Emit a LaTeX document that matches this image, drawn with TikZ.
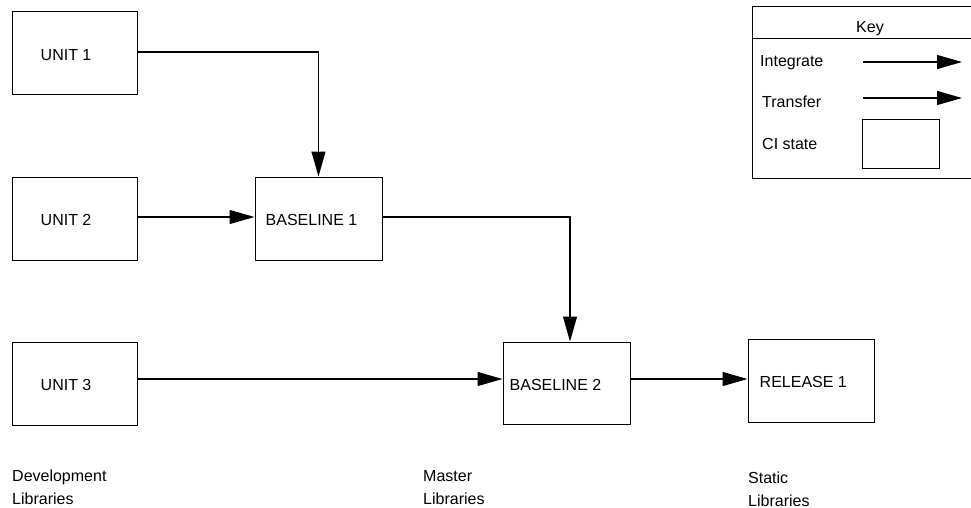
\documentclass[tikz,border=0pt]{standalone}
\usepackage{fontspec}
\setmainfont{Liberation Sans}
\usetikzlibrary{arrows.meta}
\begin{document}
\begin{tikzpicture}[x=1pt,y=-1pt,
  box/.style={draw=black, line width=1pt, inner sep=0pt},
  lbl/.style={inner sep=0pt, font=\fontsize{16}{23}\selectfont},
  arr/.style={draw=black, line width=1.1pt, -{Triangle[length=25pt,width=14pt]}}]
\useasboundingbox (0,0) rectangle (971,508);
% unit boxes
\node[box, minimum width=125pt, minimum height=83pt] (u1) at (74.5,53.5) {};
\node[box, minimum width=125pt, minimum height=83pt] (u2) at (74.5,218.5) {};
\node[box, minimum width=125pt, minimum height=83pt] (u3) at (74.5,383.5) {};
\node[box, minimum width=127pt, minimum height=83pt] (b1) at (318.5,218.5) {};
\node[box, minimum width=127pt, minimum height=82pt] (b2) at (566.5,383) {};
\node[box, minimum width=126pt, minimum height=83pt] (r1) at (811,380.5) {};
% texts
\node[lbl, anchor=west] (u1t) at ([xshift=29pt,yshift=-1.5pt]u1.west) {UNIT 1};
\node[lbl, anchor=west] (u2t) at ([xshift=29pt,yshift=-1.5pt]u2.west) {UNIT 2};
\node[lbl, anchor=west] (u3t) at ([xshift=29pt,yshift=-1.5pt]u3.west) {UNIT 3};
\node[lbl, anchor=west] (b1t) at ([xshift=11pt,yshift=-1.5pt]b1.west) {BASELINE 1};
\node[lbl, anchor=west] (b2t) at ([xshift=7pt,yshift=-1.5pt]b2.west) {BASELINE 2};
\node[lbl, anchor=west] (r1t) at ([xshift=12pt,yshift=-1.5pt]r1.west) {RELEASE 1};
% connectors
\draw[arr] ([yshift=1.5pt]u1.east) -| (b1.north);
\draw[arr] ([yshift=1.5pt]u2.east) -- ([yshift=1.5pt]b1.west);
\draw[arr] ([yshift=1.5pt]b1.east) -| ([xshift=3.5pt]b2.north);
\draw[arr] ([yshift=4.5pt]u3.east) -- ([yshift=4pt]b2.west);
\draw[arr] ([yshift=4pt]b2.east) -- ([yshift=1.5pt]r1.west);
% bottom labels
\node[lbl, anchor=north west, align=left] (dev) at (12,470) {Development\\Libraries};
\node[lbl, anchor=north west, align=left] (mas) at (423,470) {Master\\Libraries};
\node[lbl, anchor=north west, align=left] (sta) at (748,472) {Static\\Libraries};
% key
\node[box, minimum width=260pt, minimum height=171pt] (key) at (882,92.5) {};
\coordinate (hl) at (752,39);
\coordinate (hr) at (1012,39);
\draw[line width=1pt] (hl) -- (hr);
\node[lbl] (keyt) at (870,29) {Key};
\node[lbl, anchor=west] (kint) at (760,63) {Integrate};
\node[lbl, anchor=west] (ktra) at (762,101.5) {Transfer};
\node[lbl, anchor=west] (kci) at (762,144) {CI state};
\coordinate (ia) at (863,62);
\coordinate (ib) at (962,62);
\coordinate (ta) at (863,98);
\coordinate (tb) at (962,98);
\draw[arr] (ia) -- (ib);
\draw[arr] (ta) -- (tb);
\node[box, minimum width=77pt, minimum height=48pt] (kbox) at (900.5,144) {};
\end{tikzpicture}
\end{document}
